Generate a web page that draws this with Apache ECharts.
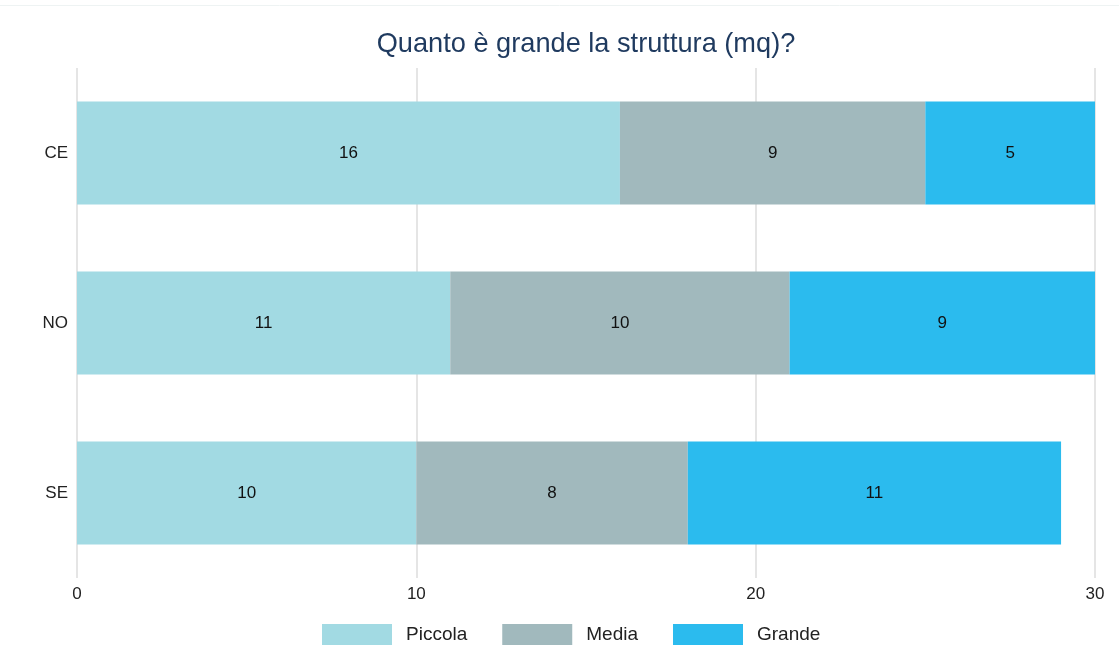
<!DOCTYPE html>
<html><head><meta charset="utf-8">
<script src="https://cdn.jsdelivr.net/npm/echarts@6/dist/echarts.min.js"></script>
<style>html,body{margin:0;padding:0;background:#fff}#c{width:1119px;height:649px}</style>
</head><body><div id="c"></div>
<script>
const categories = ['CE', 'NO', 'SE'];
const seriesNames = ['Piccola', 'Media', 'Grande'];
const piccola = [16, 11, 10];
const media = [9, 10, 8];
const grande = [5, 9, 11];
const xTicks = [0, 10, 20, 30];
const colors = ['#a2dae3', '#a1b9bd', '#2bbbee'];
const values = [piccola, media, grande];
const FF = 'Liberation Sans, Arial, sans-serif';

const chart = echarts.init(document.getElementById('c'));
chart.setOption({
  animation: false,
  title: { text: 'Quanto è grande la struttura (mq)?', left: 581, textAlign: 'center', top: 26,
    textStyle: { color: '#1f3a5f', fontSize: 27.2, fontWeight: 'normal', fontFamily: FF } },
  graphic: [{ type: 'line', shape: { x1: 0, y1: 5.5, x2: 1119, y2: 5.5 }, style: { stroke: '#eef3f3', lineWidth: 1 } }],
  legend: { top: 619, left: 317, itemWidth: 70, itemHeight: 21, itemGap: 35, icon: 'rect',
    textStyle: { fontSize: 19, color: '#222', fontFamily: FF, padding: [0, 0, 0, 9] } },
  grid: { left: 77, right: 24, top: 68, bottom: 71 },
  xAxis: { type: 'value', min: 0, max: 30, interval: 10,
    axisLine: { show: false }, axisTick: { show: false },
    splitLine: { lineStyle: { color: '#dddddd', width: 1.5 } },
    axisLabel: { color: '#222', fontSize: 17, margin: 8, fontFamily: FF,
      formatter: v => xTicks.includes(v) ? String(v) : '' } },
  yAxis: { type: 'category', data: categories, inverse: true,
    axisLine: { show: false }, axisTick: { show: false },
    axisLabel: { color: '#222', fontSize: 17, margin: 9, fontFamily: FF } },
  series: seriesNames.map((n, i) => ({
    name: n, type: 'bar', stack: 'total', barCategoryGap: '39.4%',
    data: values[i], itemStyle: { color: colors[i] },
    label: { show: true, position: 'inside', color: '#111', fontSize: 17, fontFamily: FF }
  }))
});
</script></body></html>
